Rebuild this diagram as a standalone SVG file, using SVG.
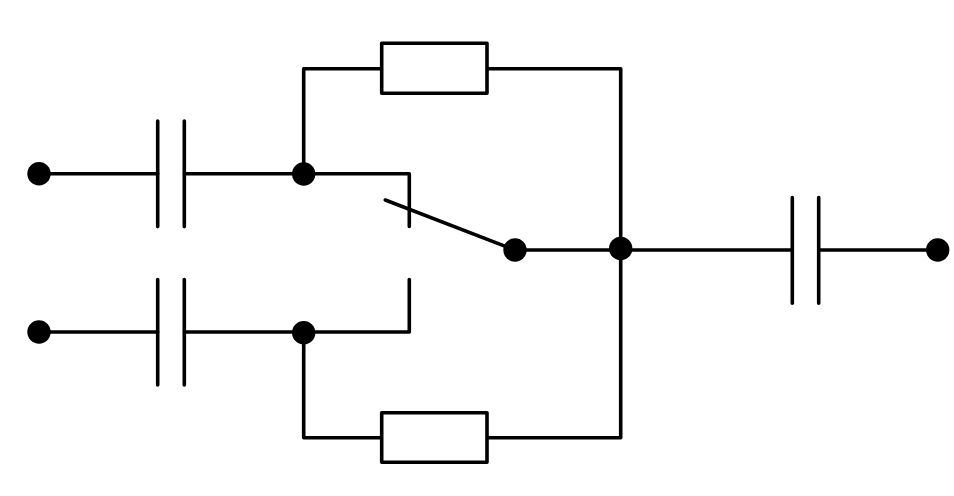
<svg xmlns="http://www.w3.org/2000/svg" width="954" height="496" viewBox="0 0 954 496">
<style>
.w{fill:none;stroke:#000;stroke-width:3.6;stroke-linecap:round;stroke-linejoin:round}
.r{fill:#fff;stroke:#000;stroke-width:3.6;stroke-linejoin:round}
.d{fill:#000}
</style>
<rect width="954" height="496" fill="#fff"/>
<g id="connectors">
<path class="w" d="M39 173.700H157.700M184.500 173.700H409.300V226.500"/>
<path class="w" d="M39 332H157.700M184.500 332H409.300V279.500"/>
<path class="w" d="M303.700 173.700V68.700H620.700V437.700H303.700V332.500"/>
<path class="w" d="M385.300 200L515 250H792.300M818.700 250H937"/>
</g>
<g id="cap1"><path class="w" d="M157.700 121V226.600M184.300 121V226.600"/></g>
<g id="cap2"><path class="w" d="M157.700 279.500V385M184.300 279.500V385"/></g>
<g id="cap3"><path class="w" d="M792.300 197.500V303.200M818.700 197.500V303.200"/></g>
<g id="res1"><rect class="r" x="381.700" y="43.300" width="105.300" height="50"/></g>
<g id="res2"><rect class="r" x="381.700" y="412.800" width="105.300" height="49.400"/></g>
<g id="t1"><circle class="d" cx="39" cy="173.700" r="11.700"/></g>
<g id="t2"><circle class="d" cx="39" cy="332" r="11.700"/></g>
<g id="t3"><circle class="d" cx="937.700" cy="250" r="11.700"/></g>
<g id="j1"><circle class="d" cx="303.700" cy="174" r="11.700"/></g>
<g id="j2"><circle class="d" cx="303.700" cy="332.700" r="11.700"/></g>
<g id="j3"><circle class="d" cx="515" cy="250" r="11.700"/></g>
<g id="j4"><circle class="d" cx="620.700" cy="248.500" r="11.700"/></g>
</svg>
